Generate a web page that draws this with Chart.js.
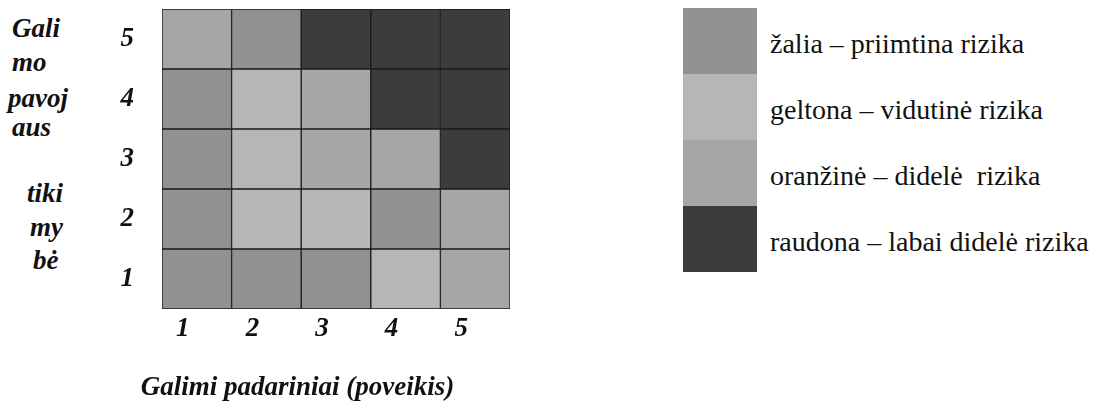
<!DOCTYPE html>
<html>
<head>
<meta charset="utf-8">
<script src="https://cdn.jsdelivr.net/npm/chart.js@4/dist/chart.umd.min.js"></script>
<style>
  body { margin: 0; background: #fff; width: 1101px; height: 402px; overflow: hidden; position: relative; }
  #wrap { position: absolute; left: 60px; top: 0; width: 455px; height: 402px; }
  .ylab { position: absolute; font: italic bold 27px "Liberation Serif", "DejaVu Serif", serif; line-height: 1; color: #111; }
  #xtitle { position: absolute; left: 122px; top: 371px; width: 351px; text-align: center; white-space: nowrap; line-height: 1.2;
            font: italic bold 27px "Liberation Serif", "DejaVu Serif", serif; color: #111; }
  #legend { position: absolute; left: 683px; top: 8px; }
  .lg-row { position: relative; height: 66px; }
  .lg-box { position: absolute; left: 0; top: 0; width: 74px; height: 66px; }
  .lg-text { position: absolute; left: 87px; top: 20px; white-space: pre; line-height: 32px; font: 28px "Liberation Serif", "DejaVu Serif", serif; color: #111; }
</style>
</head>
<body>
<div class="ylab" style="left:12px;top:15px">Gali</div>
<div class="ylab" style="left:12px;top:49px">mo</div>
<div class="ylab" style="left:8px;top:85px">pavoj</div>
<div class="ylab" style="left:12px;top:114px">aus</div>
<div class="ylab" style="left:27px;top:180px">tiki</div>
<div class="ylab" style="left:30px;top:214px">my</div>
<div class="ylab" style="left:33px;top:247px">bė</div>
<div id="wrap"><canvas id="risk_matrix"></canvas></div>
<div id="xtitle">Galimi padariniai (poveikis)</div>
<div id="legend"></div>
<script>
// axis labels
var impactLabels = ['1', '2', '3', '4', '5'];
var likelihoodLabels = ['1', '2', '3', '4', '5'];

// risk level of each cell, one array per likelihood row (1 = bottom)
// 0 zalia, 1 geltona, 2 oranzine, 3 raudona
var row1 = [0, 0, 0, 1, 2];
var row2 = [0, 1, 1, 0, 2];
var row3 = [0, 1, 2, 2, 3];
var row4 = [0, 1, 2, 3, 3];
var row5 = [2, 0, 3, 3, 3];

var levelNames = ['žalia – priimtina rizika', 'geltona – vidutinė rizika', 'oranžinė – didelė  rizika', 'raudona – labai didelė rizika'];
var levelColors = ['#919191', '#b6b6b6', '#a6a6a6', '#3c3c3c'];

var rows = [row1, row2, row3, row4, row5];

var datasets = rows.map(function(row, i) {
  return {
    label: likelihoodLabels[i],
    data: row.map(function() { return 1; }),
    backgroundColor: row.map(function(l) { return levelColors[l]; }),
    borderColor: '#1a1a1a',
    borderWidth: 1,
    borderSkipped: false,
    barPercentage: 1,
    categoryPercentage: 1
  };
});

var tickFont = { family: '"Liberation Serif", "DejaVu Serif", serif', size: 27, style: 'italic', weight: 'bold' };

var ctx = document.getElementById('risk_matrix');
var riskChart = new Chart(ctx, {
  type: 'bar',
  data: { labels: impactLabels, datasets: datasets },
  options: {
    responsive: true,
    maintainAspectRatio: false,
    animation: false,
    layout: { padding: { top: 9, right: 5, left: 0, bottom: 0 } },
    plugins: { legend: { display: false }, tooltip: { enabled: false } },
    scales: {
      x: {
        stacked: true,
        grid: { display: false },
        border: { display: false },
        ticks: { color: '#111', font: tickFont, padding: -4, labelOffset: -14, maxRotation: 0 },
        afterFit: function(s) { s.height = 93; s.paddingLeft = 0; s.paddingRight = 0; }
      },
      y: {
        stacked: true,
        min: 0,
        max: 5,
        grid: { display: false },
        border: { display: false },
        afterBuildTicks: function(s) {
          s.ticks = likelihoodLabels.map(function(l, i) { return { value: i + 0.5 }; });
        },
        ticks: {
          color: '#111',
          font: tickFont,
          padding: 20,
          callback: function(v) { return likelihoodLabels[Math.floor(v)]; }
        },
        afterFit: function(s) { s.width = 102; s.paddingTop = 0; s.paddingBottom = 0; }
      }
    }
  }
});

// legend
var lg = document.getElementById('legend');
levelNames.forEach(function(name, i) {
  var r = document.createElement('div');
  r.className = 'lg-row';
  r.innerHTML = '<div class="lg-box" style="background:' + levelColors[i] + '"></div><div class="lg-text">' + name + '</div>';
  lg.appendChild(r);
});
</script>
</body>
</html>
